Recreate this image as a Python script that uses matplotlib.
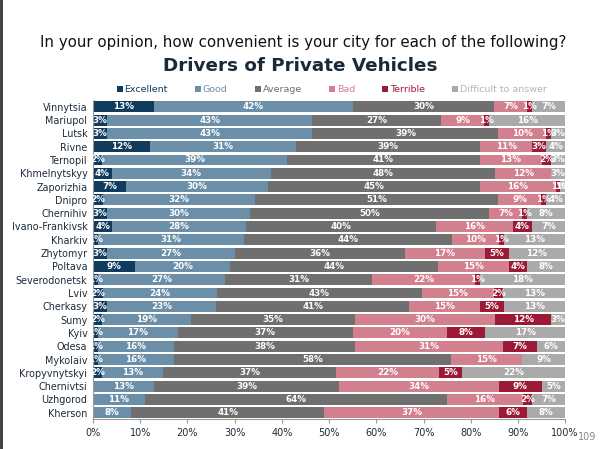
import matplotlib
matplotlib.use("Agg")
import matplotlib.pyplot as plt
import numpy as np
from matplotlib.patches import Patch, Rectangle

cities = ["Vinnytsia", "Mariupol", "Lutsk", "Rivne", "Ternopil", "Khmelnytskyy",
          "Zaporizhia", "Dnipro", "Chernihiv", "Ivano-Frankivsk", "Kharkiv", "Zhytomyr",
          "Poltava", "Severodonetsk", "Lviv", "Cherkasy", "Sumy", "Kyiv", "Odesa",
          "Mykolaiv", "Kropyvnytskyi", "Chernivtsi", "Uzhgorod", "Kherson"]
categories = ["Excellent", "Good", "Average", "Bad", "Terrible", "Difficult to answer"]
excellent = [13, 3, 3, 12, 2, 4, 7, 2, 3, 4, 1, 3, 9, 1, 2, 3, 2, 1, 1, 1, 2, 0, 0, 0]
good      = [42, 43, 43, 31, 39, 34, 30, 32, 30, 28, 31, 27, 20, 27, 24, 23, 19, 17, 16, 16, 13, 13, 11, 8]
average   = [30, 27, 39, 39, 41, 48, 45, 51, 50, 40, 44, 36, 44, 31, 43, 41, 35, 37, 38, 58, 37, 39, 64, 41]
bad       = [7, 9, 10, 11, 13, 12, 16, 9, 7, 16, 10, 17, 15, 22, 15, 15, 30, 20, 31, 15, 22, 34, 16, 37]
terrible  = [1, 1, 1, 3, 2, 0, 1, 1, 1, 4, 1, 5, 4, 1, 2, 5, 12, 8, 7, 0, 5, 9, 2, 6]
difficult = [7, 16, 3, 4, 3, 3, 1, 4, 8, 7, 13, 12, 8, 18, 13, 13, 3, 17, 6, 9, 22, 5, 7, 8]
colors = ["#0f3b5f", "#6b8fa9", "#6f6f6f", "#d3808e", "#9c1a35", "#aaaaaa"]
legend_text_colors = ["#0f3b5f", "#6b8fa9", "#6f6f6f", "#d3808e", "#9c1a35", "#b5b5b5"]

series = np.array([excellent, good, average, bad, terrible, difficult], dtype=float)
totals = series.sum(axis=0)
norm = series / totals * 100

fig = plt.figure(figsize=(6.0, 4.49), dpi=100)
ax = fig.add_axes([0.155, 0.066, 0.787, 0.711])

y = np.arange(len(cities))
left = np.zeros(len(cities))
for i, cat in enumerate(categories):
    ax.barh(y, norm[i], left=left, height=0.82, color=colors[i],
            edgecolor="none", label=cat)
    for j in range(len(cities)):
        v = series[i, j]
        if v > 0:
            ax.text(left[j] + norm[i, j] / 2, y[j], f"{int(v)}%",
                    ha="center", va="center", color="white", fontsize=6.3,
                    fontweight="bold")
    left += norm[i]

ax.set_ylim(len(cities) - 0.5, -0.5)
ax.set_xlim(0, 100)
ax.set_yticks(y)
ax.set_yticklabels(cities, fontsize=6.9, color="#1c2b3a")
ax.set_xticks(np.arange(0, 101, 10))
ax.set_xticklabels([f"{t}%" for t in range(0, 101, 10)], fontsize=7, color="#1c2b3a")
for s in ["top", "right"]:
    ax.spines[s].set_visible(False)
ax.spines["left"].set_color("#999999")
ax.spines["bottom"].set_color("#999999")
ax.tick_params(axis="y", length=0, pad=4)
ax.tick_params(axis="x", length=3, color="#999999", pad=3)

fig.text(0.505, 0.905, "In your opinion, how convenient is your city for each of the following?",
         ha="center", va="center", fontsize=10.8, color="#111111")
fig.text(0.5, 0.852, "Drivers of Private Vehicles", ha="center", va="center",
         fontsize=13.2, fontweight="bold", color="#1a2a3a")

handles = [Patch(facecolor=c, edgecolor="none") for c in colors]
leg = fig.legend(handles, categories, loc="center", bbox_to_anchor=(0.553, 0.8),
                 ncol=6, frameon=False, fontsize=6.8, handlelength=0.6,
                 handleheight=0.6, handletextpad=0.2, columnspacing=2.9)
for t, c in zip(leg.get_texts(), legend_text_colors):
    t.set_color(c)

fig.text(0.978, 0.026, "109", ha="center", va="center", fontsize=7, color="#888888")
fig.patches.append(Rectangle((0, 0), 0.005, 1, transform=fig.transFigure,
                             facecolor="#444444", edgecolor="none"))

fig.savefig("out.png", dpi=100)
